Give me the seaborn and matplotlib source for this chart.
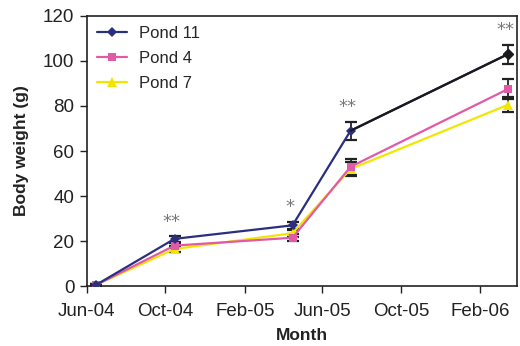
import matplotlib
matplotlib.use("Agg")
import matplotlib.pyplot as plt
import matplotlib.dates as mdates
import seaborn as sns
import pandas as pd

sns.set_style("ticks")
plt.rcParams['font.family'] = ['Liberation Sans', 'DejaVu Sans']

dates = ["2004-06-15", "2004-10-15", "2005-04-16", "2005-07-15", "2006-03-16"]
pond11 = [0.5, 21, 27, 69, 103]
pond4 = [0.5, 18, 21.5, 53, 87.5]
pond7 = [0.5, 16.5, 23.5, 52, 80.5]
err11 = [0.5, 1.2, 1.5, 4, 4.3]
err4 = [0.5, 1.2, 1.5, 3.5, 4.5]
err7 = [0.5, 1.2, 1.5, 3, 3.3]
stars = ["", "**", "*", "**", "**"]
tick_dates = ["2004-06-01", "2004-10-01", "2005-02-01", "2005-06-01", "2005-10-01", "2006-02-01"]

df = pd.DataFrame({
    "date": pd.to_datetime(dates * 3),
    "weight": pond11 + pond4 + pond7,
    "err": err11 + err4 + err7,
    "pond": ["Pond 11"] * 5 + ["Pond 4"] * 5 + ["Pond 7"] * 5,
})

colors = {"Pond 11": "#2b2f7f", "Pond 4": "#e05aa8", "Pond 7": "#f2e600"}
markers = {"Pond 11": "D", "Pond 4": "s", "Pond 7": "^"}
msize = {"Pond 11": 5, "Pond 4": 6, "Pond 7": 7}

fig = plt.figure(figsize=(5.2, 3.46), dpi=100)
ax = fig.add_axes([0.167, 0.173, 0.827, 0.781])

for pond in ["Pond 7", "Pond 4", "Pond 11"]:
    d = df[df.pond == pond]
    ax.errorbar(d.date, d.weight, yerr=d.err, fmt="none", ecolor="#222222",
                elinewidth=1.3, capsize=4, capthick=1.6, zorder=2)

for pond in ["Pond 7", "Pond 4", "Pond 11"]:
    d = df[df.pond == pond]
    sns.lineplot(data=d, x="date", y="weight", color=colors[pond], marker=markers[pond],
                 markersize=msize[pond], markeredgewidth=0, linewidth=1.6,
                 label=pond, ax=ax, zorder=3)

# last segment of Pond 11 is drawn in black in the original
d11 = df[df.pond == "Pond 11"].iloc[3:]
ax.plot(d11.date, d11.weight, color="#1a1a1a", linewidth=1.6, zorder=3.5)
ax.plot(d11.date.iloc[1:], d11.weight.iloc[1:], color="#1a1a1a", marker="D",
        markersize=5, linestyle="none", zorder=4)

for dt, y, e, s in zip(pd.to_datetime(dates), pond11, err11, stars):
    if s:
        ax.text(dt - pd.Timedelta(days=4), y + e + 2.5, s, ha="center", va="bottom",
                fontsize=13, color="#777777", family="DejaVu Sans")

ax.set_xlim(pd.Timestamp("2004-06-01"), pd.Timestamp("2006-03-30"))
ax.set_ylim(0, 120)
ax.set_yticks(range(0, 121, 20))
ax.set_xticks(pd.to_datetime(tick_dates))
ax.xaxis.set_major_formatter(mdates.DateFormatter("%b-%y"))
ax.tick_params(labelsize=13.5, color="#222222", labelcolor="#222222", length=5, width=1, pad=4)
ax.tick_params(axis="x", pad=7)
ax.set_xlabel("Month", fontsize=12.5, fontweight="bold", color="#222222", labelpad=6)
ax.set_ylabel("Body weight (g)", fontsize=12.5, fontweight="bold", color="#222222", labelpad=10)
for sp in ax.spines.values():
    sp.set_linewidth(1.2)
    sp.set_color("#222222")

h, l = ax.get_legend_handles_labels()
order = [l.index(n) for n in ["Pond 11", "Pond 4", "Pond 7"]]
ax.legend([h[i] for i in order], [l[i] for i in order], loc="upper left", frameon=False,
          fontsize=12, handlelength=1.8, labelspacing=0.6, borderaxespad=0.2,
          handletextpad=0.7)

fig.savefig("out.png", dpi=100)
